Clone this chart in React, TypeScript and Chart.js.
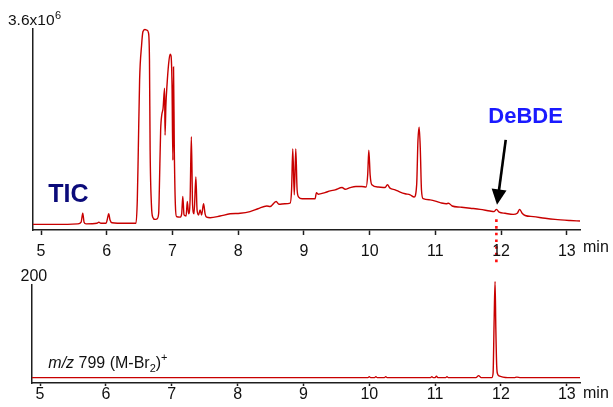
import React, { useEffect, useRef } from 'react';
import { Chart, registerables } from 'chart.js';

Chart.register(...registerables);

// ---------- data ----------
const xTicks = [5, 6, 7, 8, 9, 10, 11, 12, 13];
const xMin = 4.878;
const xMax = 13.2;

// TIC (total ion chromatogram), intensity in units of 10^6 counts
const ticTime = [
  4.878, 5.29, 5.56, 5.61, 5.635, 5.655, 5.685, 5.85, 5.88, 5.91, 5.99, 6.01, 6.03, 6.05, 6.08, 6.28, 6.445,
  6.465, 6.48, 6.5, 6.53, 6.55, 6.58, 6.61, 6.635, 6.65, 6.66, 6.68, 6.7, 6.735, 6.765,
  6.79, 6.8, 6.82, 6.837, 6.857, 6.88, 6.887, 6.9, 6.917, 6.94, 6.963, 6.978, 6.993, 7.006, 7.016, 7.028, 7.044, 7.062,
  7.115, 7.14, 7.157, 7.176, 7.207, 7.226, 7.245, 7.268, 7.287, 7.306, 7.328, 7.356, 7.374, 7.397, 7.42, 7.443, 7.473, 7.496, 7.52,
  7.572, 7.724, 7.877, 8.03, 8.18, 8.3, 8.435, 8.485, 8.577, 8.62, 8.71, 8.79,
  8.812, 8.83, 8.853, 8.876, 8.896, 8.92, 8.972, 9.094, 9.17, 9.19, 9.216, 9.32, 9.4, 9.475, 9.58, 9.627, 9.703, 9.79, 9.88, 9.946,
  9.97, 9.987, 10.007, 10.033, 10.13, 10.235, 10.27, 10.31, 10.388, 10.464, 10.54, 10.616, 10.677,
  10.715, 10.735, 10.753, 10.771, 10.788, 10.814, 10.92, 11.073, 11.164, 11.2, 11.255, 11.377, 11.53, 11.68, 11.83,
  11.894, 11.93, 11.97, 12.06, 12.184, 12.245, 12.283, 12.32, 12.366, 12.49, 12.67, 12.82, 13.05, 13.2,
];
const ticIntensity = [
  0.1, 0.1, 0.11, 0.14, 0.3, 0.14, 0.11, 0.12, 0.14, 0.12, 0.12, 0.2, 0.29, 0.18, 0.13, 0.12, 0.12,
  0.54, 1.43, 2.69, 3.31, 3.55, 3.59, 3.58, 3.53, 3.04, 1.43, 0.45, 0.23, 0.19, 0.2,
  0.3, 0.72, 1.79, 2.06, 2.18, 2.54, 1.7, 2.24, 2.6, 2.96, 3.15, 3.12, 2.6, 1.25, 2.92, 1.43, 0.45, 0.24,
  0.23, 0.29, 0.6, 0.27, 0.25, 0.51, 0.29, 0.54, 1.67, 0.45, 0.29, 0.95, 0.36, 0.27, 0.36, 0.27, 0.47, 0.29, 0.23,
  0.22, 0.25, 0.29, 0.3, 0.33, 0.38, 0.43, 0.42, 0.51, 0.46, 0.47, 0.48,
  0.72, 1.45, 0.63, 1.45, 0.72, 0.59, 0.56, 0.56, 0.56, 0.67, 0.64, 0.67, 0.7, 0.72, 0.76, 0.73, 0.76, 0.78, 0.78, 0.77,
  0.99, 1.43, 0.99, 0.81, 0.77, 0.76, 0.81, 0.75, 0.72, 0.68, 0.65, 0.63, 0.59,
  0.81, 1.61, 1.84, 1.43, 0.72, 0.56, 0.54, 0.49, 0.47, 0.48, 0.43, 0.41, 0.39, 0.37, 0.34,
  0.33, 0.37, 0.32, 0.3, 0.28, 0.3, 0.37, 0.3, 0.26, 0.24, 0.21, 0.19, 0.17, 0.16,
];
const ticMax = 3.6;

// m/z 799 extracted ion chromatogram, abundance
const sicTime = [
  4.878, 5.5, 6.0, 6.5, 7.0, 7.5, 8.0, 8.5, 9.0, 9.5, 9.98, 10.0, 10.02, 10.08, 10.1, 10.12, 10.23, 10.25, 10.27,
  10.6, 10.93, 10.95, 10.97, 11.0, 11.02, 11.04, 11.16, 11.18, 11.2, 11.45, 11.62, 11.66, 11.7, 11.8,
  11.86, 11.88, 11.895, 11.91, 11.922, 11.935, 11.95, 11.98, 12.03, 12.1, 12.2, 12.24, 12.3, 12.6, 13.2,
];
const sicIntensity = [
  11, 11, 11, 11, 11, 11, 11, 11, 11, 11, 11, 13, 11, 11, 13, 11, 11, 13, 11,
  11, 11, 13, 11, 11, 14, 11, 11, 13, 11, 11, 11, 15, 11, 11,
  11, 20, 120, 207, 110, 35, 18, 14, 12, 11, 11, 12, 11, 11, 11,
];
const sicMax = 200;

const deBdeTime = 11.93;

// ---------- styling ----------
const FONT = '"Liberation Sans", Arial, Helvetica, sans-serif';
const LINE_RED = '#c80000';
const AXIS = '#1e1e1e';

function xScaleOptions(tickLength: number, padding: number, height: number) {
  return {
    type: 'linear' as const,
    min: xMin,
    max: xMax,
    afterBuildTicks: (s: any) => {
      s.ticks = xTicks.map((v) => ({ value: v }));
    },
    afterFit: (s: any) => {
      s.height = height;
    },
    grid: {
      display: true,
      drawOnChartArea: false,
      drawTicks: true,
      tickLength,
      tickWidth: 1.5,
      tickColor: AXIS,
      color: AXIS,
    },
    border: { display: true, color: AXIS, width: 1.5 },
    ticks: {
      padding,
      color: '#111',
      font: { family: FONT, size: 16 },
      maxRotation: 0,
      autoSkip: false,
      callback: (v: any) => String(v),
    },
  };
}

function yScaleOptions(max: number) {
  return {
    type: 'linear' as const,
    min: 0,
    max,
    afterFit: (s: any) => {
      s.width = 0;
    },
    grid: { display: false },
    border: { display: true, color: AXIS, width: 1.5 },
    ticks: { display: false },
  };
}

export default function App() {
  const topRef = useRef<HTMLCanvasElement | null>(null);
  const botRef = useRef<HTMLCanvasElement | null>(null);

  useEffect(() => {
    if (!topRef.current || !botRef.current) return;

    const topPlugin = {
      id: 'topDecor',
      afterDraw(chart: any) {
        const { ctx, scales, chartArea } = chart;
        const xs = scales.x;
        const ys = scales.y;
        ctx.save();
        // y-axis max label 3.6x10^6
        ctx.fillStyle = '#111';
        ctx.textBaseline = 'alphabetic';
        ctx.textAlign = 'left';
        ctx.font = `15.5px ${FONT}`;
        const base = '3.6x10';
        ctx.fillText(base, 8, 25);
        const w = ctx.measureText(base).width;
        ctx.font = `11px ${FONT}`;
        ctx.fillText('6', 8 + w + 0.5, 19.3);

        // min unit
        ctx.font = `16px ${FONT}`;
        ctx.textBaseline = 'middle';
        ctx.fillText('min', chartArea.right + 3, chartArea.bottom + 18);

        // TIC label
        ctx.textBaseline = 'alphabetic';
        ctx.fillStyle = '#0b0b7a';
        ctx.font = `bold 25px ${FONT}`;
        ctx.fillText('TIC', 48.3, 201.7);

        // DeBDE label
        ctx.fillStyle = '#1a1aff';
        ctx.font = `bold 22px ${FONT}`;
        ctx.fillText('DeBDE', 488.3, 123.3);

        // Arrow
        const idx = ticTime.indexOf(deBdeTime);
        const tipX = xs.getPixelForValue(deBdeTime) + 0.5;
        const tipY = ys.getPixelForValue(ticIntensity[idx]) - 4.5;
        const startX = tipX + 8.7;
        const startY = tipY - 65;
        const dx = tipX - startX;
        const dy = tipY - startY;
        const len = Math.hypot(dx, dy);
        const ux = dx / len;
        const uy = dy / len;
        const headLen = 15.5;
        const halfW = 7.5;
        const bx = tipX - ux * headLen;
        const by = tipY - uy * headLen;
        ctx.strokeStyle = '#000';
        ctx.lineWidth = 2.6;
        ctx.beginPath();
        ctx.moveTo(startX, startY);
        ctx.lineTo(bx + ux * 1, by + uy * 1);
        ctx.stroke();
        ctx.fillStyle = '#000';
        ctx.beginPath();
        ctx.moveTo(tipX, tipY);
        ctx.lineTo(bx - uy * halfW, by + ux * halfW);
        ctx.lineTo(bx + uy * halfW, by - ux * halfW);
        ctx.closePath();
        ctx.fill();
        ctx.restore();
      },
    };

    const top = new Chart(topRef.current, {
      type: 'line',
      data: {
        datasets: [
          {
            data: ticTime.map((t, i) => ({ x: t, y: ticIntensity[i] })),
            borderColor: LINE_RED,
            borderWidth: 1.4,
            pointRadius: 0,
            fill: false,
            cubicInterpolationMode: 'monotone',
            clip: false as any,
          },
        ],
      },
      options: {
        responsive: false,
        animation: false,
        devicePixelRatio: 1,
        layout: { padding: { left: 33, right: 33, top: 29, bottom: 407 - 230 - 40 } },
        plugins: { legend: { display: false }, tooltip: { enabled: false } },
        scales: {
          x: xScaleOptions(5, 7, 40) as any,
          y: yScaleOptions(ticMax) as any,
        },
      },
      plugins: [topPlugin],
    });

    const botPlugin = {
      id: 'botDecor',
      afterDraw(chart: any) {
        const { ctx, scales, chartArea } = chart;
        const xs = scales.x;
        const ys = scales.y;
        ctx.save();
        ctx.fillStyle = '#111';
        ctx.textAlign = 'left';
        ctx.textBaseline = 'alphabetic';
        ctx.font = `16px ${FONT}`;
        ctx.fillText(String(sicMax), 20.5, 280.5);

        // min unit
        ctx.textBaseline = 'middle';
        ctx.fillText('min', chartArea.right + 3, chartArea.bottom + 11);

        // m/z label
        ctx.textBaseline = 'alphabetic';
        let x = 48.3;
        const yb = 368.3;
        ctx.font = `italic 16px ${FONT}`;
        ctx.fillText('m/z', x, yb);
        x += ctx.measureText('m/z').width;
        ctx.font = `16px ${FONT}`;
        const s1 = ' 799 (M-Br';
        ctx.fillText(s1, x, yb);
        x += ctx.measureText(s1).width;
        ctx.font = `11px ${FONT}`;
        ctx.fillText('2', x, yb + 4);
        x += ctx.measureText('2').width;
        ctx.font = `16px ${FONT}`;
        ctx.fillText(')', x, yb);
        x += ctx.measureText(')').width;
        ctx.font = `11px ${FONT}`;
        ctx.fillText('+', x, yb - 7);

        // red dotted connector from TIC bump to m/z 799 peak
        const idxTop = ticTime.indexOf(deBdeTime);
        const px = xs.getPixelForValue(deBdeTime);
        const y0 = top.scales.y.getPixelForValue(ticIntensity[idxTop]) + 10;
        const peakVal = Math.max(...sicIntensity);
        const y1 = ys.getPixelForValue(peakVal) - 16.5;
        ctx.strokeStyle = '#ff1010';
        ctx.lineWidth = 2.6;
        ctx.setLineDash([2.6, 4.1]);
        ctx.beginPath();
        ctx.moveTo(px, y0);
        ctx.lineTo(px, y1);
        ctx.stroke();
        ctx.restore();
      },
    };

    const bot = new Chart(botRef.current, {
      type: 'line',
      data: {
        datasets: [
          {
            data: sicTime.map((t, i) => ({ x: t, y: sicIntensity[i] })),
            borderColor: LINE_RED,
            borderWidth: 1.4,
            pointRadius: 0,
            fill: false,
            cubicInterpolationMode: 'monotone',
            clip: false as any,
          },
        ],
      },
      options: {
        responsive: false,
        animation: false,
        devicePixelRatio: 1,
        layout: { padding: { left: 32, right: 33, top: 285, bottom: 0 } },
        plugins: { legend: { display: false }, tooltip: { enabled: false } },
        scales: {
          x: xScaleOptions(3, -1.5, 24) as any,
          y: yScaleOptions(sicMax) as any,
        },
      },
      plugins: [botPlugin],
    });

    return () => {
      top.destroy();
      bot.destroy();
    };
  }, []);

  const canvasStyle: React.CSSProperties = { position: 'absolute', left: 0, top: 0 };
  return (
    <div style={{ position: 'absolute', left: 0, top: 0, width: 613, height: 407, background: '#fff' }}>
      <canvas ref={botRef} width={613} height={407} style={canvasStyle} />
      <canvas ref={topRef} width={613} height={407} style={canvasStyle} />
    </div>
  );
}
